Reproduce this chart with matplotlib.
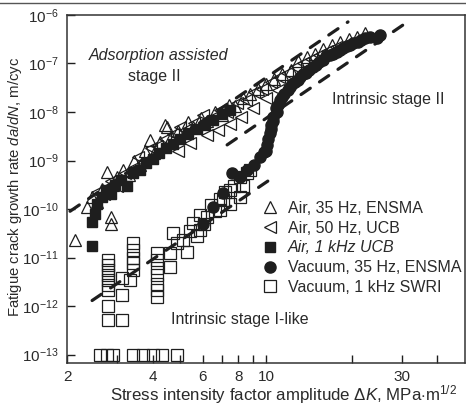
import matplotlib
matplotlib.use("Agg")
import matplotlib.pyplot as plt
from matplotlib.lines import Line2D
from matplotlib.ticker import FixedLocator, NullFormatter, FixedFormatter

plt.rcParams["font.family"] = ["Liberation Sans", "DejaVu Sans"]
plt.rcParams["mathtext.fontset"] = "custom"
plt.rcParams["mathtext.rm"] = "Liberation Sans"
plt.rcParams["mathtext.it"] = "Liberation Sans:italic"
plt.rcParams["mathtext.bf"] = "Liberation Sans:bold"

# Air, 35 Hz, ENSMA (open up-triangles)
air35_dk = [2.13, 2.35, 2.45, 2.55, 2.65, 2.76, 2.86, 2.86, 2.90, 3.00, 3.15, 3.30,
            3.45, 3.60, 3.75, 3.90, 4.05, 4.25, 4.40, 4.50, 4.65, 4.90, 5.30, 5.55,
            5.90, 6.20, 6.60, 7.00, 7.40, 7.80, 8.30, 8.80, 9.40, 10.0, 10.7, 11.4,
            12.2, 13.0, 13.9, 14.9, 15.9, 17.0, 18.2, 19.5, 20.8, 22.2]
air35_rate = [2.3e-11, 1.1e-10, 1.8e-10, 1.4e-10, 2.6e-10, 5.8e-10, 7.0e-11, 5.0e-11,
              3.2e-10, 4.5e-10, 6.5e-10, 5.0e-10, 1.0e-9, 8.0e-10, 1.6e-9, 2.6e-9,
              1.4e-9, 2.4e-9, 5.4e-9, 4.9e-9, 3.0e-9, 4.0e-9, 6.2e-9, 5.0e-9, 7.5e-9,
              6.5e-9, 1.0e-8, 8.5e-9, 1.4e-8, 1.3e-8, 1.9e-8, 2.4e-8, 3.0e-8, 3.8e-8,
              4.8e-8, 6.0e-8, 7.5e-8, 1.1e-7, 1.35e-7, 1.6e-7, 2.0e-7, 2.4e-7, 2.8e-7,
              3.2e-7, 3.6e-7, 4.2e-7]

# Air, 50 Hz, UCB (open left-triangles)
air50_dk = [2.55, 2.70, 2.85, 3.00, 3.20, 3.40, 3.55, 3.70, 3.95, 4.15, 4.40, 4.70,
            4.90, 5.00, 5.20, 5.40, 5.60, 6.00, 6.20, 6.40, 6.80, 6.90, 7.30, 7.50,
            7.90, 8.20, 8.50, 9.00, 9.10, 9.70, 10.0, 10.4, 11.0, 11.1, 11.8, 12.6,
            13.5, 14.4, 15.4, 16.4, 17.6]
air50_rate = [2.2e-10, 2.0e-10, 3.8e-10, 3.0e-10, 5.5e-10, 7.0e-10, 1.2e-9, 9.5e-10,
              1.8e-9, 2.0e-9, 2.8e-9, 3.5e-9, 1.6e-9, 5.0e-9, 4.2e-9, 2.3e-9, 6.0e-9,
              8.5e-9, 3.3e-9, 7.5e-9, 4.3e-9, 1.1e-8, 1.0e-8, 5.6e-9, 1.5e-8, 8.0e-9,
              1.8e-8, 1.2e-8, 2.6e-8, 3.0e-8, 1.9e-8, 4.2e-8, 2.8e-8, 5.2e-8, 6.5e-8,
              8.5e-8, 1.0e-7, 1.25e-7, 1.5e-7, 1.8e-7, 2.2e-7]

# Air, 1 kHz, UCB (filled squares)
air1k_dk = [2.45, 2.45, 2.50, 2.55, 2.65, 2.75, 2.85, 2.95, 3.10, 3.25, 3.40, 3.60,
            3.80, 4.00, 4.20, 4.45, 4.70, 5.00, 5.30, 5.70, 6.10, 6.50, 7.00, 7.50]
air1k_rate = [1.7e-11, 5.5e-11, 8.0e-11, 1.3e-10, 1.8e-10, 2.5e-10, 2.0e-10, 3.2e-10,
              4.0e-10, 3.0e-10, 5.5e-10, 6.5e-10, 9.0e-10, 1.1e-9, 1.4e-9, 1.8e-9,
              2.2e-9, 2.8e-9, 3.5e-9, 4.5e-9, 5.5e-9, 7.0e-9, 9.0e-9, 1.1e-8]

# Vacuum, 35 Hz, ENSMA (filled circles)
vac35_dk = [6.0, 6.5, 7.05, 7.6, 8.1, 8.6, 9.1, 9.5, 9.8, 10.0, 10.07, 10.2, 10.31,
            10.4, 10.45, 10.56, 10.6, 10.8, 10.9, 11.0, 11.17, 11.4, 11.6, 11.9, 12.1,
            12.3, 12.6, 12.9, 13.15, 13.5, 13.8, 14.2, 14.6, 15.0, 15.4, 15.8, 16.3,
            16.8, 17.2, 17.7, 18.2, 18.7, 19.2, 19.7, 20.2, 21.0, 21.5, 22.3, 23.1,
            24.5, 25.1]
vac35_rate = [5.0e-11, 1.1e-10, 2.1e-10, 5.5e-10, 4.5e-10, 6.3e-10, 8.0e-10, 1.2e-9,
              1.5e-9, 1.6e-9, 2.1e-9, 2.8e-9, 3.7e-9, 4.5e-9, 5.5e-9, 7.9e-9, 6.5e-9,
              1.2e-8, 1.0e-8, 1.4e-8, 1.8e-8, 2.0e-8, 2.4e-8, 2.8e-8, 3.3e-8, 3.8e-8,
              4.2e-8, 4.6e-8, 5.2e-8, 6.0e-8, 6.5e-8, 7.5e-8, 8.5e-8, 9.5e-8, 1.05e-7,
              1.2e-7, 1.4e-7, 1.5e-7, 1.6e-7, 1.75e-7, 1.9e-7, 2.1e-7, 2.3e-7, 2.4e-7,
              2.6e-7, 2.8e-7, 3.0e-7, 3.3e-7, 3.5e-7, 3.4e-7, 3.9e-7]

# Vacuum, 1 kHz, SWRI (open squares); the 1e-13 row are run-outs
vac1k_dk = [2.61, 2.76, 2.90, 3.41, 3.70, 4.01, 4.31, 4.86,
            2.79, 2.79, 2.79, 2.79, 2.79, 2.79, 2.79, 2.79, 2.79,
            3.12, 3.12, 3.12, 3.33,
            3.41, 3.41, 3.41, 3.41, 3.41,
            4.14, 4.14, 4.14, 4.14, 4.14, 4.14, 4.14,
            4.59, 4.59, 4.71, 4.85, 5.11, 5.27, 5.40, 5.54, 5.70, 5.86, 5.86, 6.05,
            6.20, 6.40, 6.60, 6.88, 6.88, 7.05, 7.20, 7.46, 7.46, 7.70, 8.09, 8.09,
            8.30, 8.56, 8.80]
vac1k_rate = [1e-13, 1e-13, 1e-13, 1e-13, 1e-13, 1e-13, 1e-13, 1e-13,
              8.9e-12, 7.1e-12, 5.5e-12, 4.4e-12, 3.5e-12, 2.7e-12, 2.1e-12, 1.0e-12, 5.1e-13,
              3.8e-12, 1.7e-12, 5.1e-13, 3.5e-12,
              2.0e-11, 1.4e-11, 9.8e-12, 7.8e-12, 5.5e-12,
              1.23e-11, 8.9e-12, 6.0e-12, 4.4e-12, 2.9e-12, 2.1e-12, 1.55e-12,
              1.23e-11, 6.3e-12, 3.2e-11, 2.0e-11, 2.3e-11, 1.3e-11, 3.5e-11, 5.1e-11,
              2.8e-11, 3.7e-11, 7.6e-11, 5.0e-11, 6.9e-11, 1.2e-10, 9.0e-11, 9.5e-11,
              1.6e-10, 1.5e-10, 2.2e-10, 1.3e-10, 2.5e-10, 3.0e-10, 1.8e-10, 4.5e-10,
              3.0e-10, 5.5e-10, 6.5e-10]

# dashed trend lines (end points)
upper_dk, upper_rate = [2.05, 19.4], [9.0e-11, 7.2e-7]
middle_dk, middle_rate = [7.3, 31.4], [2.1e-9, 7.2e-7]
lower_dk, lower_rate = [2.45, 10.3], [1.3e-12, 4.0e-10]

x_major = [2, 4, 6, 8, 10, 30]
x_minor = [3, 5, 7, 9, 20, 40]
y_major = [1e-13, 1e-12, 1e-11, 1e-10, 1e-9, 1e-8, 1e-7, 1e-6]

ink = "#1e1e1e"
txt = "#2a2a2a"

fig = plt.figure(figsize=(4.66, 4.05), dpi=100)
ax = fig.add_axes([0.1438, 0.1037, 0.8542, 0.8593])

ax.set_xscale("log")
ax.set_yscale("log")

dash = dict(color=ink, lw=2.3, dashes=(3.5, 3.5), dash_capstyle="round", zorder=1)
ax.plot(upper_dk, upper_rate, **dash)
ax.plot(middle_dk, middle_rate, **dash)
ax.plot(lower_dk, lower_rate, **dash)

open_kw = dict(ls="none", mfc="none", mec=ink, mew=0.9)
ax.plot(vac1k_dk, vac1k_rate, marker="s", ms=8, label="Vacuum, 1 kHz SWRI", zorder=2, **open_kw)
ax.plot(air1k_dk, air1k_rate, marker="s", ms=7, ls="none", color=ink,
        label="Air, 1 kHz UCB", zorder=3)
ax.plot(vac35_dk, vac35_rate, marker="o", ms=8, ls="none", color=ink,
        label="Vacuum, 35 Hz, ENSMA", zorder=3)
ax.plot(air35_dk, air35_rate, marker="^", ms=8.5, label="Air, 35 Hz, ENSMA", zorder=4, **open_kw)
ax.plot(air50_dk, air50_rate, marker="<", ms=8.5, label="Air, 50 Hz, UCB", zorder=4, **open_kw)

ax.set_xlim(2, 50)
ax.set_ylim(6.7e-14, 1e-6)

ax.xaxis.set_major_locator(FixedLocator(x_major))
ax.xaxis.set_major_formatter(FixedFormatter([str(v) for v in x_major]))
ax.xaxis.set_minor_locator(FixedLocator(x_minor))
ax.xaxis.set_minor_formatter(NullFormatter())
ax.yaxis.set_major_locator(FixedLocator(y_major))
ax.yaxis.set_minor_locator(FixedLocator([]))

ax.tick_params(axis="both", which="both", direction="in", length=6, width=1,
               colors=ink, labelcolor=txt, labelsize=11)
ax.tick_params(axis="x", pad=5)
ax.tick_params(axis="y", pad=6)

for side in ["left", "bottom", "top", "right"]:
    ax.spines[side].set_color("#333333")
    ax.spines[side].set_linewidth(1.1)

ax.set_xlabel(r"Stress intensity factor amplitude $\Delta K$, MPa$\cdot$m$^{1/2}$",
              fontsize=12.2, color=txt)
ax.xaxis.set_label_coords(0.545, -0.058)
ax.set_ylabel(r"Fatigue crack growth rate $da/dN$, m/cyc", fontsize=10.7, color=txt)
ax.yaxis.set_label_coords(-0.108, 0.505)

ax.text(0.231, 0.885, "Adsorption assisted", transform=ax.transAxes, ha="center",
        va="center", fontsize=11.5, style="italic", color=txt)
ax.text(0.219, 0.822, "stage II", transform=ax.transAxes, ha="center", va="center",
        fontsize=11.5, color=txt)
ax.text(0.807, 0.756, "Intrinsic stage II", transform=ax.transAxes, ha="center",
        va="center", fontsize=11.5, color=txt)
ax.text(0.435, 0.124, "Intrinsic stage I-like", transform=ax.transAxes, ha="center",
        va="center", fontsize=11.5, color=txt)

handles, labels = ax.get_legend_handles_labels()
order = ["Air, 35 Hz, ENSMA", "Air, 50 Hz, UCB", "Air, 1 kHz UCB",
         "Vacuum, 35 Hz, ENSMA", "Vacuum, 1 kHz SWRI"]
lookup = dict(zip(labels, handles))
leg = ax.legend([lookup[k] for k in order], order, loc="upper left",
                bbox_to_anchor=(0.49, 0.466), frameon=False, fontsize=11.5,
                borderpad=0, borderaxespad=0, handlelength=1.0, handletextpad=0.6,
                labelspacing=0.3)
for t in leg.get_texts():
    t.set_color(txt)
leg.get_texts()[2].set_style("italic")

# thin rule along the top edge of the figure
fig.add_artist(Line2D([0, 1], [0.993, 0.993], color="#555555", lw=1.0))

fig.savefig("out.png", dpi=100)
